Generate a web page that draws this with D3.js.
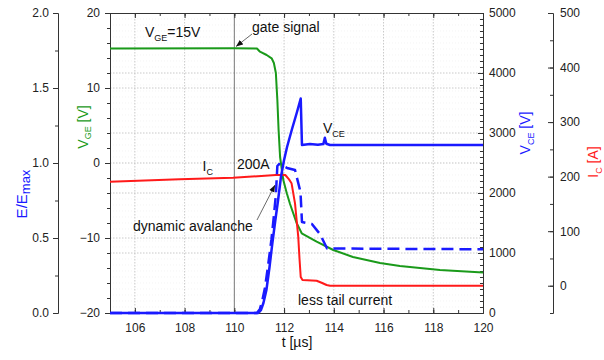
<!DOCTYPE html>
<html>
<head>
<meta charset="utf-8">
<script src="https://d3js.org/d3.v7.min.js"></script>
<style>
    body { margin: 0; background: #fff; }
    svg text { font-family: "Liberation Sans", Arial, sans-serif; }
    .tick text { font-size: 12px; fill: #222; }
    .axis path, .axis line { stroke: #333; }
    .note { font-size: 14px; fill: #111; }
</style>
</head>
<body>
<svg width="604" height="360"></svg>
<script>
    // time axis
    var tTicks = [106, 108, 110, 112, 114, 116, 118, 120];

    // gate voltage V_GE [V]
    var tGE = [105, 110, 110.91, 111.03, 111.30, 111.50, 111.59, 111.67, 111.73, 111.78, 111.84, 111.91, 111.97, 112.11, 112.24, 112.51, 112.71, 113.31, 113.98, 114.77, 115.86, 116.66, 118.27, 120];
    var vGE = [15.27, 15.3, 15.27, 14.84, 14.4, 13.96, 13.33, 12.0, 8.4, 4.4, 0.8, -0.93, -2.27, -4.04, -5.47, -8.04, -9.37, -10.49, -11.6, -12.53, -13.33, -13.73, -14.27, -14.6];

    // collector-emitter voltage V_CE [V]
    var tCE = [105, 110.95, 111.07, 111.17, 111.29, 111.41, 111.53, 111.65, 111.76, 111.88, 112.00, 112.12, 112.32, 112.52, 112.67, 112.72, 113.04, 113.36, 113.58, 113.64, 113.70, 113.85, 120];
    var vCE = [0, 0, 50, 167, 383, 750, 1167, 1550, 1883, 2283, 2550, 2767, 3067, 3350, 3575, 2800, 2815, 2805, 2815, 2920, 2820, 2800, 2800];

    // field E/Emax (dashed)
    var tE = [105, 110.91, 111.03, 111.13, 111.23, 111.35, 111.49, 111.59, 111.67, 111.73, 111.80, 112.12, 112.44, 112.66, 112.72, 113.12, 113.44, 113.73, 120];
    var vE = [0, 0, 0.027, 0.087, 0.167, 0.307, 0.487, 0.647, 0.787, 0.98, 0.993, 0.967, 0.953, 0.807, 0.607, 0.593, 0.527, 0.43, 0.425];

    // collector current I_C [A]
    var tC = [105, 107.8, 109.95, 111.67, 112.05, 112.2, 112.3, 112.44, 112.51, 112.57, 112.62, 112.67, 112.74, 113.31, 113.51, 113.71, 113.85, 120];
    var vC = [190.7, 195, 198, 203, 203, 195, 188, 151, 118, 90, 50, 16, 10.5, 9.2, 5.5, 1.3, 0, 0];

    var svg = d3.select("svg");
    var L = 110, R = 483, T = 13, B = 313;

    var x = d3.scaleLinear().domain([105, 120]).range([L, R]);
    var yE = d3.scaleLinear().domain([0, 2]).range([B, T]);
    var yG = d3.scaleLinear().domain([-20, 20]).range([B, T]);
    var yV = d3.scaleLinear().domain([0, 5000]).range([B, T]);
    var yI = d3.scaleLinear().domain([-50, 500]).range([B, T]);

    // grid
    var grid = svg.append("g");
    d3.range(100, 5000, 100).filter(function (v) { return v % 1000 !== 0; }).forEach(function (v) {
        grid.append("line").attr("x1", L).attr("x2", R).attr("y1", yV(v)).attr("y2", yV(v))
            .attr("stroke", "#ececec").attr("stroke-width", 0.6).attr("stroke-dasharray", "1,2");
    });
    [1000, 2000, 3000, 4000].forEach(function (v) {
        grid.append("line").attr("x1", L).attr("x2", R).attr("y1", yV(v)).attr("y2", yV(v))
            .attr("stroke", "#bbb").attr("stroke-width", 0.8).attr("stroke-dasharray", "1.5,1.5");
    });
    [-10, 0, 10].forEach(function (v) {
        grid.append("line").attr("x1", L).attr("x2", R).attr("y1", yG(v)).attr("y2", yG(v))
            .attr("stroke", "#bbb").attr("stroke-width", 0.8).attr("stroke-dasharray", "1.5,1.5");
    });
    [106, 108, 112, 114, 116, 118].forEach(function (t) {
        grid.append("line").attr("x1", x(t)).attr("x2", x(t)).attr("y1", T).attr("y2", B)
            .attr("stroke", "#bbb").attr("stroke-width", 0.8).attr("stroke-dasharray", "1.5,1.5");
    });
    // t = 110 us marker line
    grid.append("line").attr("x1", x(110)).attr("x2", x(110)).attr("y1", T).attr("y2", B)
        .attr("stroke", "#555").attr("stroke-width", 0.8);

    // axes
    var minorT = d3.range(105, 121, 1);
    svg.append("g").attr("class", "axis").attr("transform", "translate(0," + B + ")")
        .call(d3.axisBottom(x).tickValues(minorT).tickFormat("").tickSize(-3).tickSizeOuter(0));
    svg.append("g").attr("class", "axis").attr("transform", "translate(0," + B + ")")
        .call(d3.axisBottom(x).tickValues(tTicks).tickSize(-5).tickPadding(10).tickSizeOuter(0));
    svg.append("g").attr("class", "axis").attr("transform", "translate(0," + T + ")")
        .call(d3.axisTop(x).tickValues(minorT).tickFormat("").tickSize(-3).tickSizeOuter(0));
    svg.append("g").attr("class", "axis").attr("transform", "translate(0," + T + ")")
        .call(d3.axisTop(x).tickValues(tTicks).tickFormat("").tickSize(-5).tickSizeOuter(0));

    // V_GE axis
    svg.append("g").attr("class", "axis").attr("transform", "translate(" + L + ",0)")
        .call(d3.axisLeft(yG).tickValues(d3.range(-20, 21, 2)).tickFormat("").tickSize(3).tickSizeOuter(0));
    svg.append("g").attr("class", "axis").attr("transform", "translate(" + L + ",0)")
        .call(d3.axisLeft(yG).tickValues([-20, -10, 0, 10, 20]).tickSize(5).tickPadding(5).tickSizeOuter(0));

    // E/Emax axis
    var xE = 58;
    svg.append("g").attr("class", "axis").attr("transform", "translate(" + xE + ",0)")
        .call(d3.axisLeft(yE).tickValues([0.25, 0.75, 1.25, 1.75]).tickFormat("").tickSize(3).tickSizeOuter(0));
    svg.append("g").attr("class", "axis").attr("transform", "translate(" + xE + ",0)")
        .call(d3.axisLeft(yE).tickValues([0, 0.5, 1, 1.5, 2]).tickFormat(d3.format(".1f")).tickSize(5).tickPadding(4).tickSizeOuter(0));

    // V_CE axis
    svg.append("g").attr("class", "axis").attr("transform", "translate(" + R + ",0)")
        .call(d3.axisRight(yV).tickValues(d3.range(0, 5001, 100)).tickFormat("").tickSize(-3).tickSizeOuter(0));
    svg.append("g").attr("class", "axis").attr("transform", "translate(" + R + ",0)")
        .call(d3.axisRight(yV).tickValues([0, 1000, 2000, 3000, 4000, 5000]).tickFormat(d3.format("d")).tickSize(-5).tickPadding(6).tickSizeOuter(0));

    // I_C axis
    var xI = 553;
    svg.append("g").attr("class", "axis").attr("transform", "translate(" + xI + ",0)")
        .call(d3.axisRight(yI).tickValues(d3.range(-50, 501, 50)).tickFormat("").tickSize(-3).tickSizeOuter(0));
    svg.append("g").attr("class", "axis").attr("transform", "translate(" + xI + ",0)")
        .call(d3.axisRight(yI).tickValues([0, 100, 200, 300, 400, 500]).tickFormat(d3.format("d")).tickSize(-5).tickPadding(7).tickSizeOuter(0));

    // curves
    function draw(ts, vs, y, color, width, dash) {
        var pts = ts.map(function (t, i) { return [t, vs[i]]; });
        var p = svg.append("path").datum(pts)
            .attr("fill", "none").attr("stroke", color).attr("stroke-width", width)
            .attr("stroke-linejoin", "round")
            .attr("d", d3.line().x(function (d) { return x(d[0]); }).y(function (d) { return y(d[1]); }));
        if (dash) p.attr("stroke-dasharray", dash);
    }
    draw(tGE, vGE, yG, "#1a9a1a", 2);
    draw(tC, vC, yI, "#ff1a1a", 2);
    draw(tE, vE, yE, "#1a1aff", 2.5, "12,6");
    draw(tCE, vCE, yV, "#1a1aff", 2.5);

    // axis titles
    function title(xp, yp, color, parts, size, rot) {
        var t = svg.append("text").attr("fill", color).attr("font-size", size)
            .attr("text-anchor", "middle")
            .attr("transform", "translate(" + xp + "," + yp + ")" + (rot ? " rotate(-90)" : ""));
        parts.forEach(function (p) {
            var s = t.append("tspan").text(p[0]);
            if (p[1]) s.attr("font-size", p[1]);
            if (p[2]) s.attr("dy", p[2]);
        });
        return t;
    }
    title(297, 347, "#111", [["t [µs]"]], 14, false);
    title(27, 194, "#1a1aff", [["E/E"], ["max", 13, 3]], 15, true);
    title(88, 127, "#1a9a1a", [["V"], ["GE", 9, 3], [" [V]", 14, -3]], 14, true);
    title(530, 133, "#1a1aff", [["V"], ["CE", 9, 4], [" [V]", 14, -4]], 14, true);
    title(598, 162, "#ff1a1a", [["I"], ["C", 9, 4], [" [A]", 14, -4]], 14, true);

    // annotations
    function note(xp, yp, parts) {
        var t = svg.append("text").attr("class", "note").attr("x", xp).attr("y", yp);
        parts.forEach(function (p) {
            var s = t.append("tspan").text(p[0]);
            if (p[1]) s.attr("font-size", p[1]);
            if (p[2]) s.attr("dy", p[2]);
        });
    }
    note(145, 37, [["V"], ["GE", 9, 4], ["=15V", 14, -4]]);
    note(252, 32, [["gate signal"]]);
    note(323, 133, [["V"], ["CE", 9, 4]]);
    note(202.5, 170.5, [["I"], ["C", 9, 4]]);
    note(237, 168.5, [["200A"]]);
    note(133, 231, [["dynamic avalanche"]]);
    note(298, 305, [["less tail current"]]);

    svg.append("defs").append("marker")
        .attr("id", "arr")
        .attr("viewBox", "0 -5 10 10")
        .attr("refX", 10).attr("refY", 0)
        .attr("markerWidth", 7).attr("markerHeight", 7)
        .attr("markerUnits", "userSpaceOnUse")
        .attr("orient", "auto")
        .append("path").attr("d", "M0,-4L10,0L0,4Z").attr("fill", "#111");

    svg.append("line").attr("x1", 252).attr("y1", 34).attr("x2", 236).attr("y2", 46.5)
        .attr("stroke", "#444").attr("stroke-width", 0.8).attr("marker-end", "url(#arr)");
    svg.append("line").attr("x1", 257).attr("y1", 220).attr("x2", 275).attr("y2", 185)
        .attr("stroke", "#444").attr("stroke-width", 0.8).attr("marker-end", "url(#arr)");
</script>
</body>
</html>
